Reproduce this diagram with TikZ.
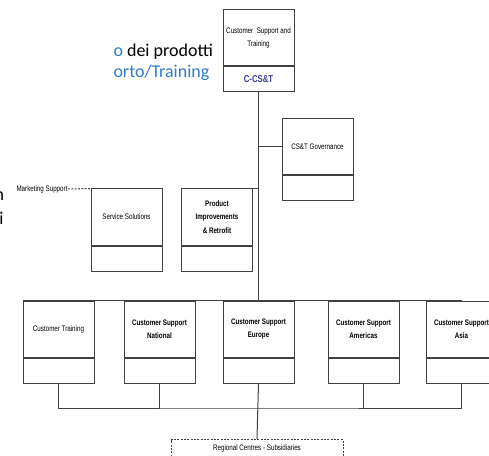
\documentclass[tikz,border=0pt]{standalone}
\usepackage{fontspec}
\setmainfont{Carlito}
\newfontfamily\chartfont[FakeStretch=0.78]{Liberation Sans}
\usetikzlibrary{positioning}
\definecolor{slideblue}{HTML}{2E7BCF}
\definecolor{orgink}{HTML}{404040}
\definecolor{codeblue}{HTML}{3A3A9E}

\begin{document}
\begin{tikzpicture}[x=0.75pt, y=-0.75pt, line width=0.75pt,
    unit/.style={draw=orgink, minimum width=53.25pt, minimum height=42pt,
      inner sep=0pt, align=center, font=\chartfont\fontsize{6}{10}\selectfont},
    boldunit/.style={unit, font=\chartfont\bfseries\fontsize{6}{10}\selectfont},
    unitb/.style={draw=orgink, minimum width=53.25pt, minimum height=18.75pt,
      inner sep=0pt, below=0pt of #1},
    slide/.style={inner sep=0pt, font=\fontsize{13.5}{16}\selectfont},
    small/.style={inner sep=0pt, font=\chartfont\fontsize{6}{8}\selectfont}]
  \useasboundingbox (0,0) rectangle (489,456);

  % slide text behind the chart (cut off on the left)
  \node[slide, anchor=base west] (title1) at (113,57) {\textcolor{slideblue}{o} dei prodotti};
  \node[slide, anchor=base west, text=slideblue] (title2) at (113,78) {orto/Training};
  \node[slide, anchor=base east] (frag1) at (4.5,200) {n};
  \node[slide, anchor=base east] (frag2) at (4,224) {i};

  % head of the unit
  \node[unit] (cst) at (258.5,38) {Customer\ \ Support and\\ Training};
  \node[unitb=cst, text=codeblue, font=\chartfont\bfseries\fontsize{7.5}{9}\selectfont] (cst-b) {C-CS\&T};

  % governance, off to the right
  \node[unit] (gov) at (317.5,147) {CS\&T Governance};
  \node[unitb=gov] (gov-b) {};

  % second level
  \node[unit] (serv) at (126.5,217) {Service Solutions};
  \node[unitb=serv] (serv-b) {};
  \node[boldunit] (prod) at (217,217) {Product\\ Improvements\\ \& Retrofit};
  \node[unitb=prod] (prod-b) {};
  \node[small, anchor=east] (mkt) at (68,189) {Marketing Support};

  % regional row
  \node[unit] (train) at (58.5,329) {Customer Training};
  \node[unitb=train] (train-b) {};
  \node[boldunit] (nat) at (159.5,329) {Customer Support\\ National};
  \node[unitb=nat] (nat-b) {};
  \node[boldunit] (eur) at (258.5,329) {Customer Support\\ Europe};
  \node[unitb=eur] (eur-b) {};
  \node[boldunit] (amer) at (363.5,329) {Customer Support\\ Americas};
  \node[unitb=amer] (amer-b) {};
  \node[boldunit] (asia) at (461.5,329) {Customer Support\\ Asia};
  \node[unitb=asia] (asia-b) {};

  % dashed box at the bottom (runs off the page)
  \node[small, draw=orgink, dash pattern=on 1.5pt off 1pt, anchor=north,
        minimum width=129pt, text height=8.25pt, text depth=15pt] (reg) at (257,439)
        {Regional Centres - Subsidiaries};

  % connectors
  \coordinate (bus) at (258.5,408);
  \draw[orgink] (cst-b.south) -- (eur.north);
  \draw[orgink] (gov.west) -- (gov.west -| cst-b.south);
  \draw[orgink] (prod.north east) -- (prod.north east -| cst-b.south);
  \draw[orgink] (train.north west) -- (asia.north);
  \draw[orgink, dash pattern=on 1.5pt off 1pt] (mkt.east) -- (serv.north west);
  \draw[orgink] (train-b.south) |- (bus) -| (asia-b.south);
  \draw[orgink] (nat-b.south) -- (nat-b.south |- bus);
  \draw[orgink] (amer-b.south) -- (amer-b.south |- bus);
  \draw[orgink] (eur-b.south) -- (reg.north);
\end{tikzpicture}
\end{document}
